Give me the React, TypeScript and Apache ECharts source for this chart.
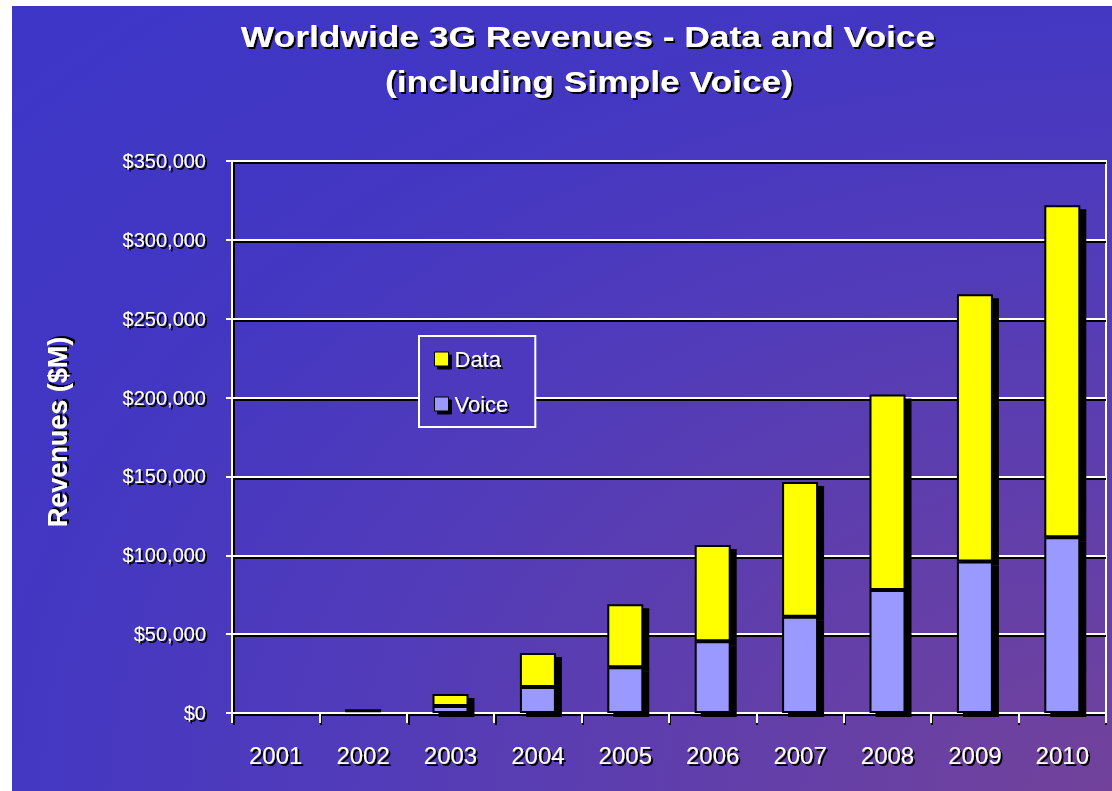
import React, { useEffect, useRef } from "react";
import * as echarts from "echarts";

const years = ["2001", "2002", "2003", "2004", "2005", "2006", "2007", "2008", "2009", "2010"];
const voiceValues = [null, 500, 4500, 16500, 29000, 45500, 61000, 78000, 96000, 111500];
const dataValues = [null, 1800, 7500, 21500, 40000, 61000, 85500, 124000, 169500, 210500];
const yTicks = { min: 0, max: 350000, interval: 50000 };
const titleLines = ["Worldwide 3G Revenues - Data and Voice", "(including Simple Voice)"];
const yAxisTitle = "Revenues ($M)";

const FONT = '"Liberation Sans", Arial, sans-serif';

export default function App() {
  const ref = useRef<HTMLDivElement>(null);
  useEffect(() => {
    if (!ref.current) return;
    const chart = echarts.init(ref.current, null, { renderer: "svg" });
    const textShadow = {
      textShadowColor: "#000",
      textShadowOffsetX: 2,
      textShadowOffsetY: 2,
      textShadowBlur: 1,
    };
    const barStyle = (color: string) => ({
      color,
      borderColor: "#000",
      borderWidth: 2,
      shadowColor: "#000",
      shadowOffsetX: 6,
      shadowOffsetY: 4,
      shadowBlur: 0,
    });
    const titleText = (text: string, x: number, y: number) => ({
      type: "text",
      x,
      y,
      scaleX: 1.22,
      style: {
        text,
        fill: "#fff",
        font: `bold 29px ${FONT}`,
        textAlign: "center",
        textVerticalAlign: "middle",
        verticalAlign: "middle",
        align: "center",
        ...textShadow,
      },
    });
    chart.setOption({
      animation: false,
      backgroundColor: {
        type: "radial",
        x: 1,
        y: 1,
        r: 1.45,
        colorStops: [
          { offset: 0, color: "#72429A" },
          { offset: 0.49, color: "#503BBA" },
          { offset: 0.69, color: "#4337C2" },
          { offset: 1, color: "#3C36C8" },
        ],
      },
      graphic: [
        titleText(titleLines[0], 576, 31),
        titleText(titleLines[1], 577, 76),
        {
          type: "text",
          x: 46,
          y: 426,
          rotation: Math.PI / 2,
          style: {
            text: yAxisTitle,
            fill: "#fff",
            font: `bold 27px ${FONT}`,
            textAlign: "center",
            textVerticalAlign: "middle",
            verticalAlign: "middle",
            align: "center",
            ...textShadow,
          },
        },
      ],
      legend: {
        data: ["Data", "Voice"],
        orient: "vertical",
        left: 407,
        top: 330,
        padding: [12, 27, 12, 15],
        itemGap: 23,
        itemWidth: 14,
        itemHeight: 14,
        icon: "rect",
        borderColor: "#fff",
        borderWidth: 2,
        backgroundColor: "#4C39BE",
        textStyle: {
          color: "#fff",
          fontSize: 22,
          fontFamily: FONT,
          lineHeight: 22,
          padding: [0, 0, 0, 1],
          ...textShadow,
        },
        itemStyle: {
          borderColor: "#000",
          borderWidth: 1,
          shadowColor: "#000",
          shadowOffsetX: 3,
          shadowOffsetY: 3,
          shadowBlur: 0,
        },
      },
      grid: [
        {
          left: 220,
          top: 155,
          right: 6,
          bottom: 78,
          show: true,
          borderColor: "#fff",
          borderWidth: 2,
          backgroundColor: "transparent",
        },
        {
          left: 222,
          top: 157,
          right: 6,
          bottom: 76,
          show: false,
        },
      ],
      xAxis: [
        {
          type: "category",
          gridIndex: 0,
          z: 1,
          data: years,
          boundaryGap: true,
          axisLine: { show: true, lineStyle: { color: "#fff", width: 2 } },
          axisTick: { show: true, interval: 0, length: 10, lineStyle: { color: "#fff", width: 2 } },
          axisLabel: {
            color: "#fff",
            fontSize: 24,
            fontFamily: FONT,
            margin: 30,
            interval: 0,
            ...textShadow,
          },
        },
        {
          type: "category",
          gridIndex: 1,
          z: 0,
          data: years,
          boundaryGap: true,
          axisLine: { show: true, lineStyle: { color: "#000", width: 2 } },
          axisTick: { show: true, interval: 0, length: 10, lineStyle: { color: "#000", width: 2 } },
          axisLabel: { show: false },
        },
      ],
      yAxis: [
        {
          type: "value",
          gridIndex: 0,
          z: 1,
          min: yTicks.min,
          max: yTicks.max,
          interval: yTicks.interval,
          axisLine: { show: true, lineStyle: { color: "#fff", width: 2 } },
          axisTick: { show: true, length: 6, lineStyle: { color: "#fff", width: 2 } },
          splitLine: { show: true, lineStyle: { color: "#fff", width: 2 } },
          axisLabel: {
            color: "#fff",
            fontSize: 20,
            fontFamily: FONT,
            margin: 26,
            formatter: (v: number) => "$" + v.toLocaleString("en-US"),
            ...textShadow,
          },
        },
        {
          type: "value",
          gridIndex: 1,
          z: 0,
          min: yTicks.min,
          max: yTicks.max,
          interval: yTicks.interval,
          axisLine: { show: true, lineStyle: { color: "#000", width: 2 } },
          axisTick: { show: false },
          splitLine: { show: true, lineStyle: { color: "#000", width: 2 } },
          axisLabel: { show: false },
        },
      ],
      series: [
        {
          name: "Voice",
          type: "bar",
          stack: "total",
          barWidth: 36,
          z: 3,
          data: voiceValues,
          itemStyle: barStyle("#9999FF"),
        },
        {
          name: "Data",
          type: "bar",
          stack: "total",
          barWidth: 36,
          z: 2,
          data: dataValues,
          itemStyle: barStyle("#FFFF00"),
        },
      ],
    });
    return () => chart.dispose();
  }, []);
  return (
    <div
      ref={ref}
      style={{ position: "absolute", left: 12, top: 6, width: 1100, height: 785 }}
    />
  );
}
